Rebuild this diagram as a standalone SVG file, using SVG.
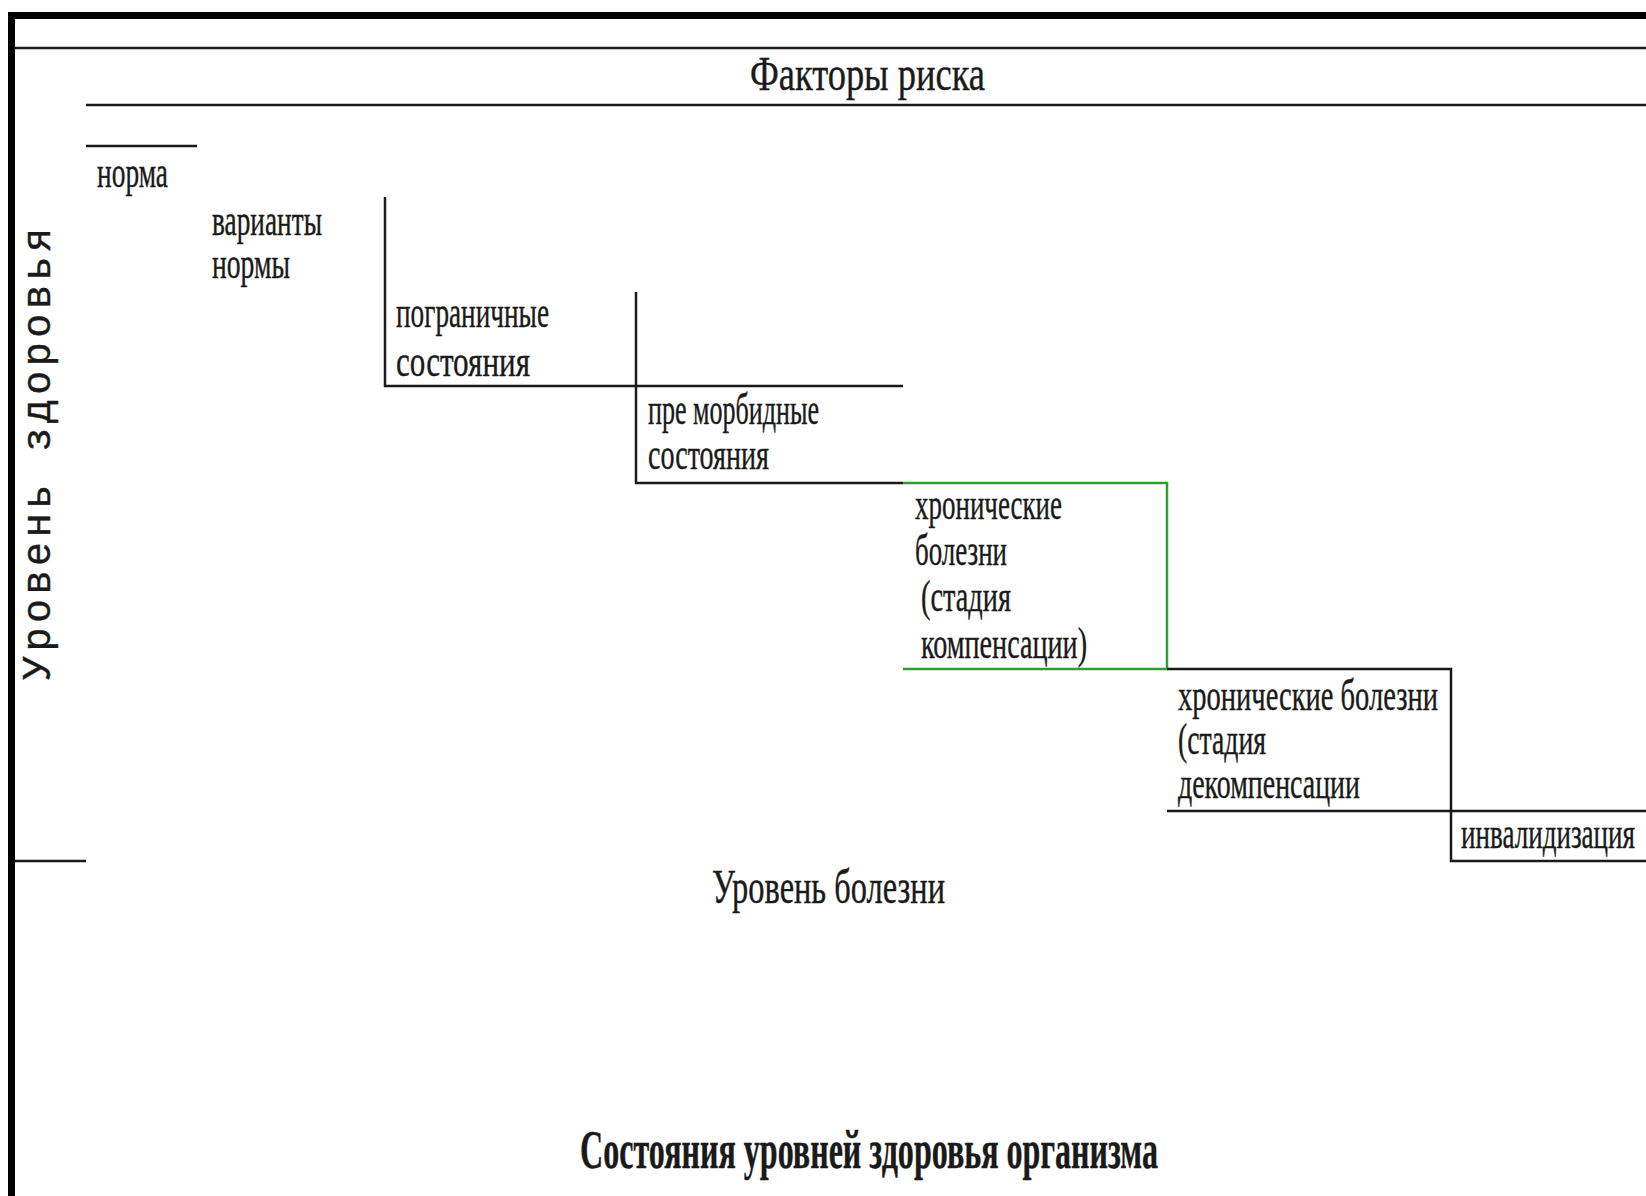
<svg xmlns="http://www.w3.org/2000/svg" width="1646" height="1196" viewBox="0 0 1646 1196">
<style>
.t{font-family:"Liberation Serif","Times New Roman",serif;font-size:44px;fill:#1a1a1a;stroke:#1a1a1a;stroke-width:0.4}
.big{font-size:48px}
.title{font-size:54px;font-weight:bold}
.v{font-family:"Liberation Mono","Courier New",monospace;font-size:40px;fill:#1a1a1a;stroke:#1a1a1a;stroke-width:0.4}
.ln{stroke:#1a1a1a;stroke-width:2.5;fill:none}
.gr{stroke:#2e9e2e;stroke-width:2.5;fill:none}
.frame{stroke:#000;stroke-width:7;fill:none}
</style>
<rect width="1646" height="1196" fill="#fff"/>
<g id="frame">
<path class="frame" d="M11.5,1196 V15.5 H1646"/>
</g>
<g id="connectors">
<path class="ln" d="M15,48 H1646"/>
<path class="ln" d="M86,105 H1646"/>
<path class="ln" d="M86,146 H197"/>
<path class="ln" d="M385,197 V386 H903"/>
<path class="ln" d="M636,292 V483 H903"/>
<path class="gr" d="M903,483 H1167 V669 H903"/>
<path class="ln" d="M1167,669 H1451 V861 H1646"/>
<path class="ln" d="M1167,811 H1646"/>
<path class="ln" d="M15,861 H86"/>
</g>
<g id="header"><text class="t big" x="750" y="90" textLength="235" lengthAdjust="spacingAndGlyphs">Факторы риска</text></g>
<g id="axis-y"><text class="v" transform="translate(50,680) rotate(-90)" x="0" y="0" textLength="452" lengthAdjust="spacing">Уровень здоровья</text></g>
<g id="norma"><text class="t" x="97" y="187" textLength="71" lengthAdjust="spacingAndGlyphs">норма</text></g>
<g id="varianty">
<text class="t" x="212" y="235" textLength="110" lengthAdjust="spacingAndGlyphs">варианты</text>
<text class="t" x="212" y="278" textLength="78" lengthAdjust="spacingAndGlyphs">нормы</text>
</g>
<g id="pogranichnye">
<text class="t" x="396" y="327" textLength="153" lengthAdjust="spacingAndGlyphs">пограничные</text>
<text class="t" x="396" y="376" textLength="134" lengthAdjust="spacingAndGlyphs">состояния</text>
</g>
<g id="premorbidnye">
<text class="t" x="648" y="424" textLength="171" lengthAdjust="spacingAndGlyphs">пре морбидные</text>
<text class="t" x="648" y="469" textLength="121" lengthAdjust="spacingAndGlyphs">состояния</text>
</g>
<g id="chron-komp">
<text class="t" x="915" y="519" textLength="147" lengthAdjust="spacingAndGlyphs">хронические</text>
<text class="t" x="915" y="565" textLength="92" lengthAdjust="spacingAndGlyphs">болезни</text>
<text class="t" x="921" y="611" textLength="90" lengthAdjust="spacingAndGlyphs">(стадия</text>
<text class="t" x="921" y="658" textLength="166" lengthAdjust="spacingAndGlyphs">компенсации)</text>
</g>
<g id="chron-dekomp">
<text class="t" x="1178" y="710" textLength="260" lengthAdjust="spacingAndGlyphs">хронические  болезни</text>
<text class="t" x="1178" y="754" textLength="88" lengthAdjust="spacingAndGlyphs">(стадия</text>
<text class="t" x="1178" y="798" textLength="182" lengthAdjust="spacingAndGlyphs">декомпенсации</text>
</g>
<g id="invalid"><text class="t" x="1461" y="848" textLength="174" lengthAdjust="spacingAndGlyphs">инвалидизация</text></g>
<g id="axis-x"><text class="t big" x="712" y="903" textLength="233" lengthAdjust="spacingAndGlyphs">Уровень болезни</text></g>
<g id="caption"><text class="t title" x="580" y="1168" textLength="578" lengthAdjust="spacingAndGlyphs">Состояния уровней здоровья организма</text></g>
</svg>
